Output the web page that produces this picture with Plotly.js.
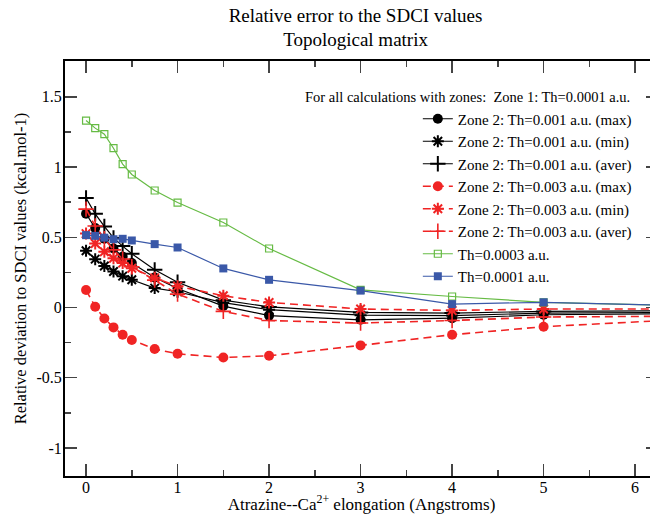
<!DOCTYPE html>
<html>
<head>
<meta charset="utf-8">
<script src="https://cdn.plot.ly/plotly-3.0.1.min.js"></script>
<style>
html, body { margin:0; padding:0; overflow:hidden; background:#fff; }
#chart { width:660px; height:514px; }
</style>
</head>
<body>
<div id="chart"></div>
<script>
// Distances (Angstroms)
const xVals = [0, 0.1, 0.2, 0.3, 0.4, 0.5, 0.75, 1, 1.5, 2, 3, 4, 5, 7];

// Zone 2: Th=0.001 a.u.
const z001Max  = [0.667, 0.565, 0.49, 0.42, 0.362, 0.316, 0.214, 0.135, 0.01, -0.058, -0.088, -0.076, -0.052, -0.042];
const z001Min  = [0.404, 0.344, 0.295, 0.256, 0.223, 0.197, 0.138, 0.112, 0.034, -0.016, -0.055, -0.058, -0.04, -0.033];
const z001Aver = [0.779, 0.667, 0.577, 0.495, 0.437, 0.382, 0.268, 0.18, 0.052, 0.004, -0.035, -0.04, -0.028, -0.022];

// Zone 2: Th=0.003 a.u.
const z003Max  = [0.124, 0.005, -0.078, -0.142, -0.194, -0.232, -0.296, -0.33, -0.356, -0.344, -0.27, -0.194, -0.137, -0.07];
const z003Min  = [0.526, 0.455, 0.397, 0.35, 0.316, 0.279, 0.211, 0.152, 0.083, 0.036, -0.011, -0.021, -0.011, -0.01];
const z003Aver = [0.70, 0.58, 0.49, 0.41, 0.345, 0.29, 0.195, 0.095, -0.028, -0.093, -0.111, -0.093, -0.068, -0.06];

// Uniform thresholds
const th0003 = [1.331, 1.277, 1.234, 1.134, 1.021, 0.947, 0.833, 0.747, 0.605, 0.42, 0.125, 0.078, 0.037, 0.005];
const th0001 = [0.515, 0.51, 0.497, 0.486, 0.489, 0.477, 0.451, 0.427, 0.278, 0.197, 0.12, 0.024, 0.037, 0.005];

const seriesNames = [
  "Zone 2: Th=0.001 a.u. (max)",
  "Zone 2: Th=0.001 a.u. (min)",
  "Zone 2: Th=0.001 a.u. (aver)",
  "Zone 2: Th=0.003 a.u. (max)",
  "Zone 2: Th=0.003 a.u. (min)",
  "Zone 2: Th=0.003 a.u. (aver)",
  "Th=0.0003 a.u.",
  "Th=0.0001 a.u."
];

const yTickVals = [-1, -0.5, 0, 0.5, 1, 1.5];
const yTickText = ["-1", "-0.5", "0", "0.5", "1", "1.5"];
const xTickVals = [0, 1, 2, 3, 4, 5, 6];
const xTickText = ["0", "1", "2", "3", "4", "5", "6"];

const BLACK = "#000000", RED = "#f02424", GREEN = "#66bb44", BLUE = "#3a58a8";
const DASH = "8px,5px";
const serif = "Liberation Serif";

function tr(y, name, color, dash, symbol, size, lw, mlw) {
  return {
    x: xVals, y: y, name: name, type: "scatter", mode: "lines+markers",
    line: { color: color, width: lw, dash: dash },
    marker: { symbol: symbol, size: size, color: color, line: { color: color, width: mlw } },
    hoverinfo: "skip"
  };
}

const data = [
  tr(z001Max,  seriesNames[0], BLACK, "solid", "circle", 10, 1.2, 0),
  tr(z001Min,  seriesNames[1], BLACK, "solid", "asterisk-open", 10, 1.2, 2),
  tr(z001Aver, seriesNames[2], BLACK, "solid", "cross-thin-open", 11, 1.2, 2),
  tr(z003Max,  seriesNames[3], RED, DASH, "circle", 10, 1.6, 0),
  tr(z003Min,  seriesNames[4], RED, DASH, "asterisk-open", 10, 1.6, 2),
  tr(z003Aver, seriesNames[5], RED, DASH, "cross-thin-open", 11, 1.6, 1.6),
  tr(th0003,   seriesNames[6], GREEN, "solid", "square-open", 7, 1.2, 1.2),
  tr(th0001,   seriesNames[7], BLUE, "solid", "square", 8, 1.2, 0)
];

const axisCommon = {
  showline: true, linecolor: "#000", linewidth: 2, mirror: "ticks",
  ticks: "inside", ticklen: 12, tickwidth: 1.5, tickcolor: "#444",
  showgrid: false, zeroline: false,
  tickfont: { family: serif, size: 16, color: "#000" },
  tickmode: "array", fixedrange: true
};

const layout = {
  width: 660, height: 514,
  margin: { l: 65, r: 2, t: 61, b: 38 },
  paper_bgcolor: "#fff", plot_bgcolor: "#fff",
  font: { family: serif, color: "#000" },
  title: {
    text: "Relative error to the SDCI values<br>Topological matrix",
    font: { family: serif, size: 19, color: "#000" },
    x: 0.49, xref: "paper", xanchor: "center",
    y: 0.958, yref: "container", yanchor: "top"
  },
  xaxis: Object.assign({}, axisCommon, {
    range: [-0.23, 6.25],
    tickvals: xTickVals, ticktext: xTickText,
    ticklabelstandoff: -4,
    minor: { dtick: 0.5, tick0: 0, ticks: "inside", ticklen: 6, tickwidth: 1.5, tickcolor: "#444" },
    title: { text: "Atrazine--Ca<sup>2+</sup> elongation (Angstroms)", font: { family: serif, size: 17, color: "#000" }, standoff: 10 }
  }),
  yaxis: Object.assign({}, axisCommon, {
    range: [-1.2, 1.755],
    tickvals: yTickVals, ticktext: yTickText,
    ticklabelstandoff: -2,
    minor: { dtick: 0.25, tick0: 0, ticks: "inside", ticklen: 6, tickwidth: 1.5, tickcolor: "#444" },
    title: { text: "Relative deviation to SDCI values (kcal.mol-1)", font: { family: serif, size: 16.5, color: "#000" }, standoff: 6 }
  }),
  showlegend: true,
  legend: {
    x: 0.595, xanchor: "left", y: 0.9, yanchor: "top",
    bgcolor: "rgba(0,0,0,0)", borderwidth: 0,
    font: { family: serif, size: 15, color: "#000" },
    tracegroupgap: 0, itemwidth: 30
  },
  annotations: [{
    text: "For all calculations with zones:\u00a0 Zone 1: Th=0.0001 a.u.",
    xref: "paper", yref: "paper", x: 0.956, y: 0.913, xanchor: "right", yanchor: "middle",
    showarrow: false, font: { family: serif, size: 14.5, color: "#000" }
  }]
};

Plotly.newPlot("chart", data, layout, { staticPlot: true, displayModeBar: false });
</script>
</body>
</html>
